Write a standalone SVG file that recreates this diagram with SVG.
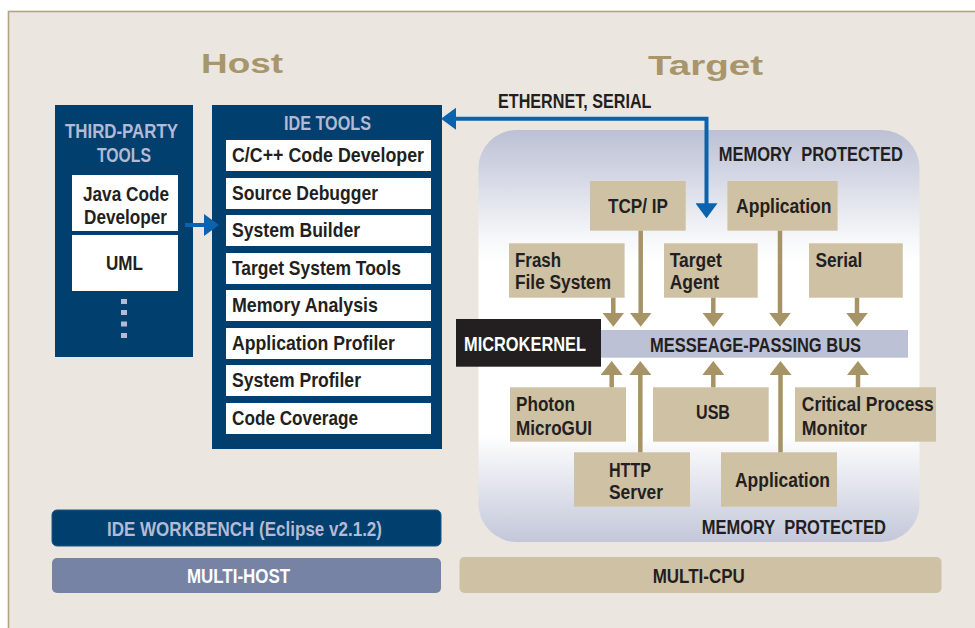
<svg xmlns="http://www.w3.org/2000/svg" width="975" height="628" viewBox="0 0 975 628">
<style>
.t{font-family:"Liberation Sans Narrow","Liberation Sans",Arial,sans-serif;font-weight:bold;font-size:20px;fill:#231f20}
.i{font-size:21px}
.lt{fill:#b4bad3}
.wt{fill:#ffffff}
.hd{font-family:"Liberation Sans",Arial,sans-serif;font-weight:bold;font-size:28px;fill:#a8956a}
.navy{fill:#003f6e}
.tan{fill:#cfc1a4}
.wb{fill:#ffffff}
.sh{stroke:#a69466;stroke-width:4.5;fill:none}
.bl{stroke:#0b63ad;stroke-width:4;fill:none}
</style>
<defs>
<linearGradient id="mp" x1="0" y1="0" x2="0" y2="1">
<stop offset="0" stop-color="#bbc0d4"/>
<stop offset="0.26" stop-color="#f6f7f9"/>
<stop offset="0.32" stop-color="#ffffff"/>
<stop offset="0.74" stop-color="#ffffff"/>
<stop offset="1" stop-color="#c3c7d9"/>
</linearGradient>
<marker id="ah" viewBox="0 0 14 22" markerWidth="14" markerHeight="22" refX="4" refY="11" orient="auto-start-reverse" markerUnits="userSpaceOnUse">
<path d="M0,0 L14,11 L0,22 z" fill="#a69466"/>
</marker>
<marker id="bh" viewBox="0 0 15 22" markerWidth="15" markerHeight="22" refX="4" refY="11" orient="auto-start-reverse" markerUnits="userSpaceOnUse">
<path d="M0,0 L15,11 L0,22 z" fill="#0b63ad"/>
</marker>
</defs>

<rect x="0" y="0" width="975" height="628" fill="#ffffff"/>
<rect x="8.5" y="11.5" width="975" height="630" fill="#ebe7e0" stroke="#b3a481" stroke-width="1.6"/>

<text class="hd" x="201" y="73.3" textLength="82" lengthAdjust="spacingAndGlyphs">Host</text>
<text class="hd" x="648" y="75" textLength="115" lengthAdjust="spacingAndGlyphs">Target</text>

<g id="third-party-tools">
<rect class="navy" x="55" y="105" width="138" height="252"/>
<text class="t lt i" x="121.5" y="137.7" text-anchor="middle" textLength="113" lengthAdjust="spacingAndGlyphs">THIRD-PARTY</text>
<text class="t lt i" x="124" y="162" text-anchor="middle" textLength="54" lengthAdjust="spacingAndGlyphs">TOOLS</text>
<g id="java-code-developer">
<rect class="wb" x="72" y="175" width="106" height="56"/>
<text class="t i" x="126" y="201" text-anchor="middle" textLength="86" lengthAdjust="spacingAndGlyphs">Java Code</text>
<text class="t i" x="125.5" y="224" text-anchor="middle" textLength="83" lengthAdjust="spacingAndGlyphs">Developer</text>
</g>
<g id="uml">
<rect class="wb" x="72" y="235" width="106" height="56"/>
<text class="t i" x="124.5" y="270" text-anchor="middle" textLength="37" lengthAdjust="spacingAndGlyphs">UML</text>
</g>
<g fill="#b4bad3">
<rect x="121" y="299" width="6" height="5"/>
<rect x="121" y="310" width="6" height="5"/>
<rect x="121" y="321.5" width="6" height="5"/>
<rect x="121" y="333" width="6" height="5"/>
</g>
</g>

<g id="ide-tools">
<rect class="navy" x="212" y="105" width="230" height="344"/>
<text class="t lt i" x="327.5" y="130" text-anchor="middle" textLength="87" lengthAdjust="spacingAndGlyphs">IDE TOOLS</text>
<g id="cc-code-developer"><rect class="wb" x="226" y="140" width="205" height="31"/><text class="t i" x="232" y="162" textLength="192" lengthAdjust="spacingAndGlyphs">C/C++ Code Developer</text></g>
<g id="source-debugger"><rect class="wb" x="226" y="178" width="205" height="31"/><text class="t i" x="232" y="200" textLength="146" lengthAdjust="spacingAndGlyphs">Source Debugger</text></g>
<g id="system-builder"><rect class="wb" x="226" y="215" width="205" height="31"/><text class="t i" x="232" y="237" textLength="128" lengthAdjust="spacingAndGlyphs">System Builder</text></g>
<g id="target-system-tools"><rect class="wb" x="226" y="253" width="205" height="31"/><text class="t i" x="232" y="275" textLength="169" lengthAdjust="spacingAndGlyphs">Target System Tools</text></g>
<g id="memory-analysis"><rect class="wb" x="226" y="290" width="205" height="31"/><text class="t i" x="232" y="312" textLength="146" lengthAdjust="spacingAndGlyphs">Memory Analysis</text></g>
<g id="application-profiler"><rect class="wb" x="226" y="328" width="205" height="31"/><text class="t i" x="232" y="350" textLength="163" lengthAdjust="spacingAndGlyphs">Application Profiler</text></g>
<g id="system-profiler"><rect class="wb" x="226" y="365" width="205" height="31"/><text class="t i" x="232" y="387" textLength="129" lengthAdjust="spacingAndGlyphs">System Profiler</text></g>
<g id="code-coverage"><rect class="wb" x="226" y="403" width="205" height="31"/><text class="t i" x="232" y="425" textLength="126" lengthAdjust="spacingAndGlyphs">Code Coverage</text></g>
</g>

<g id="ide-workbench">
<rect class="navy" x="52" y="510" width="389" height="36" rx="5" stroke="#1d5684" stroke-width="1"/>
<text class="t lt i" x="244.5" y="536" text-anchor="middle" textLength="275" lengthAdjust="spacingAndGlyphs">IDE WORKBENCH (Eclipse v2.1.2)</text>
</g>
<g id="multi-host">
<rect x="52" y="558" width="389" height="35" rx="5" fill="#7683a5"/>
<text class="t wt i" x="238.5" y="583" text-anchor="middle" textLength="103" lengthAdjust="spacingAndGlyphs">MULTI-HOST</text>
</g>
<g id="multi-cpu">
<rect class="tan" x="459.5" y="557" width="482" height="36" rx="5"/>
<text class="t i" x="698.7" y="583" text-anchor="middle" textLength="92" lengthAdjust="spacingAndGlyphs">MULTI-CPU</text>
</g>

<g id="memory-protected">
<rect x="478.5" y="130" width="441" height="412" rx="38" fill="url(#mp)"/>
<text class="t" x="718.8" y="161" textLength="184" lengthAdjust="spacingAndGlyphs" xml:space="preserve">MEMORY  PROTECTED</text>
<text class="t" x="701.8" y="534.3" textLength="184" lengthAdjust="spacingAndGlyphs" xml:space="preserve">MEMORY  PROTECTED</text>
</g>

<text class="t" x="498" y="108.3" textLength="153.5" lengthAdjust="spacingAndGlyphs">ETHERNET, SERIAL</text>

<g id="tcp-ip"><rect class="tan" x="590" y="181" width="95.7" height="49.7"/><text class="t" x="608" y="212.7" textLength="60" lengthAdjust="spacingAndGlyphs">TCP/ IP</text></g>
<g id="application-top"><rect class="tan" x="727.4" y="181" width="110.2" height="49.7"/><text class="t" x="736" y="212.7" textLength="95.5" lengthAdjust="spacingAndGlyphs">Application</text></g>
<g id="frash-file-system"><rect class="tan" x="509" y="243.3" width="115.6" height="54.4"/><text class="t" x="515" y="266.7" textLength="46" lengthAdjust="spacingAndGlyphs">Frash</text><text class="t" x="515" y="289.3" textLength="96" lengthAdjust="spacingAndGlyphs">File System</text></g>
<g id="target-agent"><rect class="tan" x="664" y="243.3" width="93.7" height="54.4"/><text class="t" x="669.7" y="266.7" textLength="52" lengthAdjust="spacingAndGlyphs">Target</text><text class="t" x="669.7" y="289.3" textLength="49.5" lengthAdjust="spacingAndGlyphs">Agent</text></g>
<g id="serial"><rect class="tan" x="809" y="243.3" width="93.8" height="54.4"/><text class="t" x="815.4" y="266.7" textLength="47" lengthAdjust="spacingAndGlyphs">Serial</text></g>

<g id="messeage-passing-bus"><rect x="601" y="330" width="307" height="27.7" fill="#bcc1d5"/><text class="t" x="650" y="352" textLength="211" lengthAdjust="spacingAndGlyphs">MESSEAGE-PASSING BUS</text></g>
<g id="microkernel"><rect x="456" y="319" width="145" height="47.7" fill="#231f20"/><text class="t wt" x="464" y="350.5" textLength="122" lengthAdjust="spacingAndGlyphs">MICROKERNEL</text></g>

<g id="photon-microgui"><rect class="tan" x="510" y="387.3" width="116" height="54.4"/><text class="t" x="516" y="411" textLength="59" lengthAdjust="spacingAndGlyphs">Photon</text><text class="t" x="516" y="435" textLength="76" lengthAdjust="spacingAndGlyphs">MicroGUI</text></g>
<g id="usb"><rect class="tan" x="653" y="387.3" width="115.7" height="54.4"/><text class="t" x="696" y="419.3" textLength="34" lengthAdjust="spacingAndGlyphs">USB</text></g>
<g id="critical-process-monitor"><rect class="tan" x="795" y="387.3" width="141" height="54.4"/><text class="t" x="801.8" y="411" textLength="132" lengthAdjust="spacingAndGlyphs">Critical Process</text><text class="t" x="801.8" y="435" textLength="65" lengthAdjust="spacingAndGlyphs">Monitor</text></g>
<g id="http-server"><rect class="tan" x="574" y="452.3" width="116" height="54.4"/><text class="t" x="609" y="476.7" textLength="42" lengthAdjust="spacingAndGlyphs">HTTP</text><text class="t" x="609" y="499.3" textLength="54" lengthAdjust="spacingAndGlyphs">Server</text></g>
<g id="application-bottom"><rect class="tan" x="721" y="452.3" width="116" height="54.4"/><text class="t" x="735" y="486.7" textLength="95" lengthAdjust="spacingAndGlyphs">Application</text></g>

<g id="connectors">
<path class="bl" d="M185,225 H208" stroke-width="5" marker-end="url(#bh)"/>
<path class="bl" d="M452,118.7 H706.5 V207.3" marker-start="url(#bh)" marker-end="url(#bh)"/>
<path class="sh" d="M613.3,297.7 V316.7" marker-end="url(#ah)"/>
<path class="sh" d="M640.7,230.7 V316.7" marker-end="url(#ah)"/>
<path class="sh" d="M713.3,297.7 V316.7" marker-end="url(#ah)"/>
<path class="sh" d="M780,230.7 V316.7" marker-end="url(#ah)"/>
<path class="sh" d="M857,297.7 V316.7" marker-end="url(#ah)"/>
<path class="sh" d="M611.7,387.3 V371" marker-end="url(#ah)"/>
<path class="sh" d="M640.3,452.3 V371" marker-end="url(#ah)"/>
<path class="sh" d="M713.3,387.3 V371" marker-end="url(#ah)"/>
<path class="sh" d="M780.5,452.3 V371" marker-end="url(#ah)"/>
<path class="sh" d="M858,387.3 V371" marker-end="url(#ah)"/>
</g>
</svg>
